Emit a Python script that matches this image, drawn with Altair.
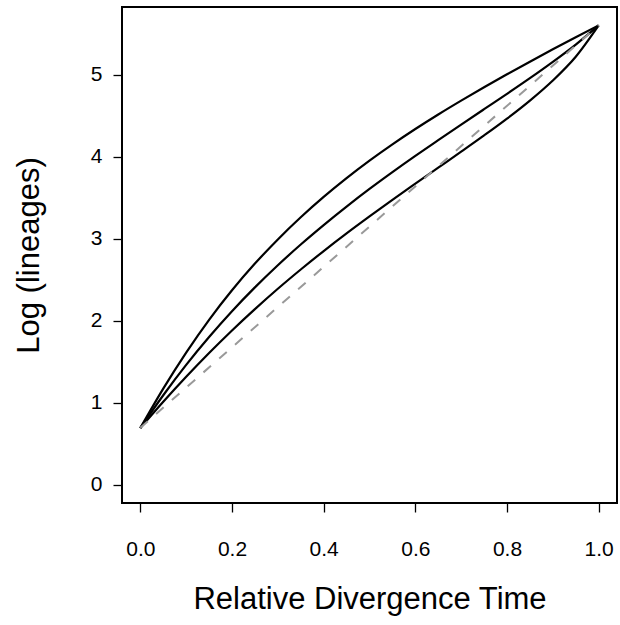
import altair as alt
import pandas as pd

# Relative divergence time grid
x_vals = [0.0, 0.05, 0.1, 0.15, 0.2, 0.25, 0.3, 0.35, 0.4, 0.45, 0.5,
          0.55, 0.6, 0.65, 0.7, 0.75, 0.8, 0.85, 0.9, 0.95, 1.0]

# Log (lineages) for the three curves
upper = [0.69, 1.17, 1.61, 2.01, 2.37, 2.695, 2.99, 3.26, 3.508, 3.737, 3.95,
         4.149, 4.336, 4.513, 4.682, 4.845, 5.003, 5.157, 5.308, 5.455, 5.60]
middle = [0.69, 1.09, 1.46, 1.80, 2.115, 2.405, 2.675, 2.928, 3.165, 3.39, 3.605,
          3.81, 4.008, 4.20, 4.39, 4.578, 4.765, 4.956, 5.155, 5.366, 5.60]
lower = [0.69, 1.01, 1.315, 1.605, 1.88, 2.14, 2.388, 2.623, 2.848, 3.063, 3.27,
         3.473, 3.67, 3.865, 4.06, 4.258, 4.463, 4.683, 4.928, 5.218, 5.60]

# Dashed reference line (constant rate)
ref_x = [0.0, 1.0]
ref_y = [0.693, 5.60]

x_ticks = [0.0, 0.2, 0.4, 0.6, 0.8, 1.0]
y_ticks = [0, 1, 2, 3, 4, 5]

rows = []
for name, ys in (("upper", upper), ("middle", middle), ("lower", lower)):
    for xv, yv in zip(x_vals, ys):
        rows.append({"series": name, "t": xv, "v": yv})
curves = pd.DataFrame(rows)
ref = pd.DataFrame({"t": ref_x, "v": ref_y})

FONT = "Liberation Sans"

xscale = alt.Scale(domain=[-0.04, 1.04], nice=False, zero=False)
yscale = alt.Scale(domain=[-0.224, 5.824], nice=False, zero=False)

xaxis = alt.Axis(
    title="Relative Divergence Time", values=x_ticks, format=".1f",
    grid=False, domain=False, ticks=True, tickSize=9, tickWidth=1.3,
    tickColor="black", labelFontSize=21, labelColor="black", labelFont=FONT,
    labelPadding=26, titleFontSize=31, titleFont=FONT, titleFontWeight="normal",
    titleColor="black", titlePadding=25, labelFlush=False,
)
yaxis = alt.Axis(
    title="Log (lineages)", values=y_ticks, format="d",
    grid=False, domain=False, ticks=True, tickSize=9, tickWidth=1.3,
    tickColor="black", labelFontSize=21, labelColor="black", labelFont=FONT,
    labelPadding=11, titleFontSize=31, titleFont=FONT, titleFontWeight="normal",
    titleColor="black", titlePadding=45, labelFlush=False,
)

lines = alt.Chart(curves).mark_line(
    color="black", strokeWidth=2.2, interpolate="monotone"
).encode(
    x=alt.X("t:Q", scale=xscale, axis=xaxis),
    y=alt.Y("v:Q", scale=yscale, axis=yaxis),
    detail="series:N",
)

dashed = alt.Chart(ref).mark_line(
    color="#999999", strokeWidth=2, strokeDash=[10, 11]
).encode(
    x=alt.X("t:Q", scale=xscale),
    y=alt.Y("v:Q", scale=yscale),
)

chart = alt.layer(lines, dashed).properties(
    width=495, height=496,
    background="white",
    autosize=alt.AutoSizeParams(type="none"),
    padding={"left": 122, "top": 7, "right": 3, "bottom": 122},
).configure_view(
    stroke="black", strokeWidth=2, fill="white"
)

chart.save("out.html", embed_options={"renderer": "svg", "actions": False})
